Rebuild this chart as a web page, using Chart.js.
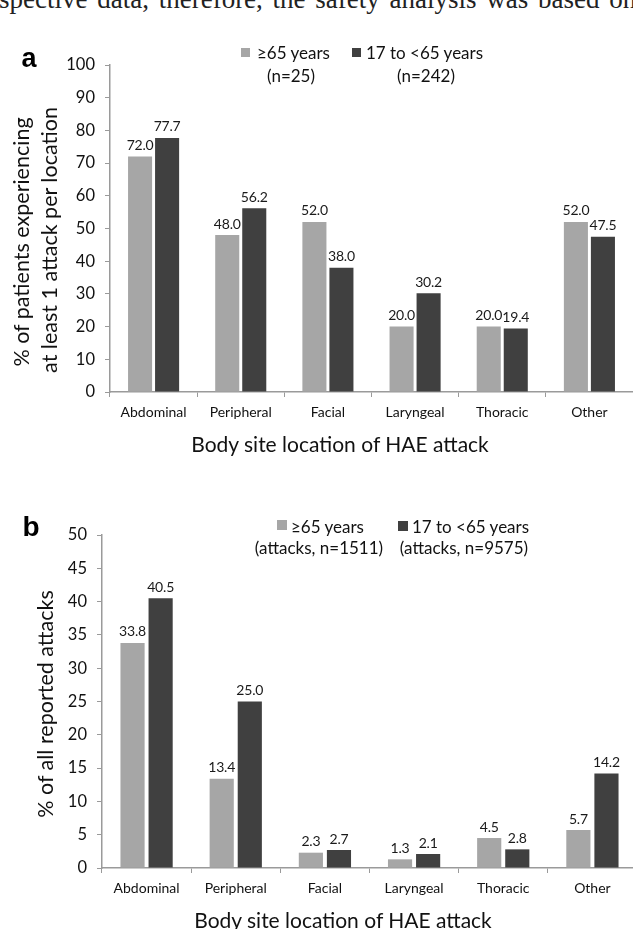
<!DOCTYPE html>
<html>
<head>
<meta charset="utf-8">
<script src="https://cdn.jsdelivr.net/npm/chart.js@4.4.0/dist/chart.umd.min.js"></script>
<style>
  html, body { margin:0; padding:0; background:#fff; width:633px; height:929px; overflow:hidden; position:relative; }
  canvas { position:absolute; left:0; }
  .t { position:absolute; white-space:nowrap; font-family: Lato, "Open Sans", sans-serif; color:#111; line-height:1; }
  .sq { position:absolute; }
</style>
</head>
<body>
<div id="toptext" class="t" style="font-family:'Liberation Serif', serif; font-size:27px; word-spacing:3px; top:-14.5px; left:-1px; color:#222;">spective data, therefore, the safety analysis was based on</div>
<canvas id="chartA" width="633" height="460" style="top:0;"></canvas>
<canvas id="chartB" width="637" height="459" style="top:470px;"></canvas>
<script>
// ---------------- DATA ----------------
const categories = ["Abdominal", "Peripheral", "Facial", "Laryngeal", "Thoracic", "Other"];
// Panel a: % of patients experiencing at least 1 attack per location
const aOlder = [72.0, 48.0, 52.0, 20.0, 20.0, 52.0];     // >=65 years (n=25)
const aYounger = [77.7, 56.2, 38.0, 30.2, 19.4, 47.5];   // 17 to <65 years (n=242)
// Panel b: % of all reported attacks
const bOlder = [33.8, 13.4, 2.3, 1.3, 4.5, 5.7];          // >=65 years (attacks, n=1511)
const bYounger = [40.5, 25.0, 2.7, 2.1, 2.8, 14.2];       // 17 to <65 years (attacks, n=9575)
// Axis ranges / ticks
const aTickMax = 100, aTickStep = 10;
const bTickMax = 50, bTickStep = 5;
const seriesNames = ["\u226565 years", "17 to <65 years"];

// ---------------- STYLE ----------------
const GRAY = "#a6a6a6";
const DARK = "#404040";
const AXIS = "#9a9a9a";
const FONT = "Lato, 'Open Sans', sans-serif";

const valueLabels = {
  id: "valueLabels",
  afterDatasetsDraw(chart) {
    const ctx = chart.ctx;
    ctx.save();
    ctx.font = "14px " + FONT;
    try { ctx.letterSpacing = "-0.2px"; } catch (e) {}
    ctx.fillStyle = "#1a1a1a";
    ctx.textAlign = "center";
    ctx.textBaseline = "bottom";
    chart.data.datasets.forEach((ds, di) => {
      chart.getDatasetMeta(di).data.forEach((bar, i) => {
        ctx.fillText(ds.data[i].toFixed(1), bar.x, bar.y - 4);
      });
    });
    ctx.restore();
  }
};

function makeChart(id, older, younger, max, step, yWidth, xHeight, catPct, barPct) {
  return new Chart(document.getElementById(id), {
    type: "bar",
    data: {
      labels: categories,
      datasets: [
        { label: seriesNames[0], data: older, backgroundColor: GRAY, categoryPercentage: catPct, barPercentage: barPct },
        { label: seriesNames[1], data: younger, backgroundColor: DARK, categoryPercentage: catPct, barPercentage: barPct }
      ]
    },
    options: {
      responsive: false,
      animation: false,
      devicePixelRatio: 1,
      layout: { padding: { top: 65, left: 0, right: 0, bottom: 0 } },
      plugins: { legend: { display: false }, tooltip: { enabled: false } },
      scales: {
        x: {
          grid: { drawOnChartArea: false, drawTicks: true, tickLength: 5, color: AXIS, offset: true },
          border: { display: true, color: AXIS, width: 1.5 },
          ticks: { font: { family: FONT, size: 14 }, color: "#111", padding: 7, maxRotation: 0, autoSkip: false },
          afterFit(scale) { scale.height = xHeight; }
        },
        y: {
          min: 0, max: max,
          grid: { drawOnChartArea: false, drawTicks: true, tickLength: 5, color: AXIS },
          border: { display: true, color: AXIS, width: 1.5 },
          ticks: { stepSize: step, font: { family: FONT, size: 16.5 }, color: "#111", padding: 10 },
          afterFit(scale) { scale.width = yWidth; }
        }
      }
    },
    plugins: [valueLabels]
  });
}

makeChart("chartA", aOlder, aYounger, aTickMax, aTickStep, 110, 68, 0.62, 0.89);
makeChart("chartB", bOlder, bYounger, bTickMax, bTickStep, 102, 61, 0.63, 0.86);

// ---------------- HTML TEXT (labels, legends, titles) ----------------
function txt(s, x, y, o) {
  o = o || {};
  const d = document.createElement("div");
  d.className = "t";
  d.textContent = s;
  d.style.fontSize = (o.size || 17) + "px";
  if (o.bold) { d.style.fontWeight = "bold"; d.style.fontFamily = "'Liberation Sans', Arial, sans-serif"; d.style.color = "#000"; }
  d.style.left = x + "px";
  d.style.top = y + "px";
  let tr = o.align === "left" ? "translate(0,-50%)" : "translate(-50%,-50%)";
  if (o.rotate) tr += " rotate(-90deg)";
  d.style.transform = tr;
  document.body.appendChild(d);
  return d;
}
function sq(x, y, s, c) {
  const d = document.createElement("div");
  d.className = "sq";
  d.style.left = x + "px"; d.style.top = y + "px";
  d.style.width = s + "px"; d.style.height = s + "px";
  d.style.background = c;
  document.body.appendChild(d);
}

// Panel letters
txt("a", 29, 58, { bold: true, size: 27 });
txt("b", 31, 527, { bold: true, size: 28 });

// Legend a
sq(241, 48, 9, GRAY);
txt(seriesNames[0], 257, 52, { align: "left" });
txt("(n=25)", 291, 75);
sq(352, 48, 9, DARK);
txt(seriesNames[1], 366, 52, { align: "left" });
txt("(n=242)", 426, 75);

// Legend b
sq(277, 520, 10, GRAY);
txt(seriesNames[0], 291, 526, { align: "left" });
txt("(attacks, n=1511)", 319, 547);
sq(398, 521, 10, DARK);
txt(seriesNames[1], 412, 526, { align: "left" });
txt("(attacks, n=9575)", 464, 547);

// Axis titles
txt("Body site location of HAE attack", 340, 443, { size: 21 });
txt("Body site location of HAE attack", 343, 919, { size: 21 });
txt("% of patients experiencing", 22, 242, { size: 21.5, rotate: true });
txt("at least 1 attack per location", 50, 240, { size: 21.5, rotate: true });
txt("% of all reported attacks", 46, 704, { size: 21.5, rotate: true });
</script>
</body>
</html>
